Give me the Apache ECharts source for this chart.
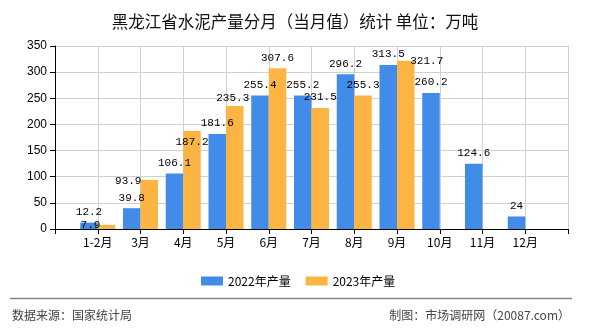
<!DOCTYPE html>
<html>
<head>
<meta charset="utf-8">
<script src="https://cdn.jsdelivr.net/npm/echarts@6/dist/echarts.min.js"></script>
<style>
  html, body { margin: 0; padding: 0; background: #fff; }
  #chart { width: 590px; height: 330px; }
</style>
</head>
<body>
<div id="chart"></div>
<script>
// Monthly cement output, Heilongjiang (10k tonnes)
const months = ['1-2月', '3月', '4月', '5月', '6月', '7月', '8月', '9月', '10月', '11月', '12月'];
const output2022 = [12.2, 39.8, 106.1, 181.6, 255.4, 255.2, 296.2, 313.5, 260.2, 124.6, 24];
const output2023 = [7.9, 93.9, 187.2, 235.3, 307.6, 231.5, 255.3, 321.7];
const seriesNames = ['2022年产量', '2023年产量'];
const yTicks = { min: 0, max: 350, step: 50 };

// Nudges for 2023 value labels that would otherwise collide
const labelNudge2023 = [[-16, 11], [-21, 12], [0, 21], [-2, 3], [0, 0], [0, 0], [0, 0], [21, 11]];

const CJK = '"Noto Sans CJK SC", sans-serif';
const MONO = '"Liberation Mono", "DejaVu Sans Mono", monospace';

// Empty slots at both ends so each month sits on a tick line
const xData = [''].concat(months, ['']);
function padded(values, nudges) {
  const out = [null];
  for (let i = 0; i < months.length; i++) {
    if (i < values.length) {
      const item = { value: values[i] };
      if (nudges && nudges[i]) item.label = { offset: nudges[i] };
      out.push(item);
    } else {
      out.push(null);
    }
  }
  out.push(null);
  return out;
}

const barLabel = {
  show: true,
  position: 'top',
  distance: 5,
  color: '#000',
  fontFamily: MONO,
  fontSize: 11
};

const chart = echarts.init(document.getElementById('chart'), null, { renderer: 'canvas' });
chart.setOption({
  animation: false,
  backgroundColor: '#fff',
  title: {
    text: '黑龙江省水泥产量分月（当月值）统计 单位：万吨',
    left: 'center',
    top: 8,
    textStyle: { fontFamily: CJK, fontSize: 16.5, fontWeight: 'normal', color: '#111' }
  },
  legend: {
    data: seriesNames,
    left: 196,
    top: 270,
    itemWidth: 22,
    itemHeight: 9,
    itemGap: 15,
    icon: 'rect',
    textStyle: { fontFamily: CJK, fontSize: 12, color: '#000' }
  },
  grid: { left: 55, right: 22, top: 46, bottom: 101 },
  xAxis: {
    type: 'category',
    data: xData,
    boundaryGap: false,
    axisLine: { lineStyle: { color: '#000', width: 1 } },
    axisTick: { show: true, length: 5, interval: 0, lineStyle: { color: '#000' } },
    axisLabel: { interval: 0, margin: 7, fontFamily: CJK, fontSize: 12, color: '#000' },
    splitLine: { show: true, interval: 0, lineStyle: { color: '#d0d0d0', width: 1 } }
  },
  yAxis: {
    type: 'value',
    min: yTicks.min,
    max: yTicks.max,
    interval: yTicks.step,
    axisLine: { show: true, lineStyle: { color: '#000', width: 1 } },
    axisTick: { show: true, length: 5, lineStyle: { color: '#000' } },
    axisLabel: { margin: 8, fontFamily: '"Liberation Sans", Arial, sans-serif', fontSize: 12, color: '#000' },
    splitLine: { show: true, lineStyle: { color: '#d0d0d0', width: 1 } }
  },
  series: [
    {
      name: seriesNames[0],
      type: 'bar',
      data: padded(output2022),
      barWidth: 17.5,
      barGap: '0%',
      itemStyle: { color: '#418be9' },
      label: barLabel
    },
    {
      name: seriesNames[1],
      type: 'bar',
      data: padded(output2023, labelNudge2023),
      barWidth: 17.5,
      barGap: '0%',
      itemStyle: { color: '#fcb443' },
      label: barLabel
    }
  ],
  graphic: [
    {
      type: 'line',
      shape: { x1: 10, y1: 298.5, x2: 572, y2: 298.5 },
      style: { stroke: '#858585', lineWidth: 1.5 }
    },
    {
      type: 'text',
      left: 12,
      top: 309,
      style: { text: '数据来源：国家统计局', fontFamily: CJK, fontSize: 12, fill: '#444' }
    },
    {
      type: 'text',
      right: 20,
      top: 309,
      style: { text: '制图：市场调研网（20087.com）', fontFamily: CJK, fontSize: 12, fill: '#444' }
    }
  ]
});
</script>
</body>
</html>
